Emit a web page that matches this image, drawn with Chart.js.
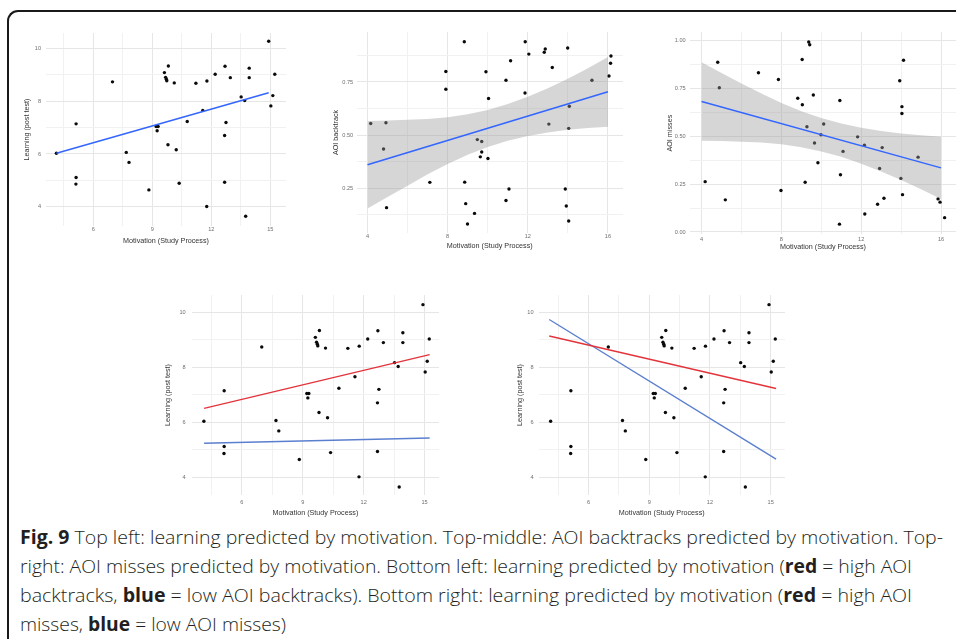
<!DOCTYPE html>
<html><head><meta charset="utf-8">
<script src="https://cdn.jsdelivr.net/npm/chart.js@4.4.0/dist/chart.umd.min.js"></script>
<style>
html,body{margin:0;padding:0;background:#fff;width:956px;height:639px;overflow:hidden;position:relative}
#frame{position:absolute;left:7px;top:10px;width:1100px;height:800px;border-left:2px solid #1a1a1a;border-top:2px solid #1a1a1a;border-top-left-radius:11px;box-sizing:border-box}
canvas{position:absolute}
#cap{position:absolute;left:20px;top:523px;font-family:'Open Sans',sans-serif;font-weight:300;font-size:19px;line-height:29px;color:#231f20;white-space:nowrap}
#cap .ln{height:29px}
#cap .ln span{display:inline-block;transform-origin:0 50%}
#cap b{font-weight:700}
</style></head>
<body>
<div id="frame"></div>
<div id="cap">
<div class="ln" data-w="923"><span><b>Fig. 9</b> Top left: learning predicted by motivation. Top-middle: AOI backtracks predicted by motivation. Top-</span></div>
<div class="ln" data-w="892"><span>right: AOI misses predicted by motivation. Bottom left: learning predicted by motivation (<b>red</b> = high AOI</span></div>
<div class="ln" data-w="892"><span>backtracks, <b>blue</b> = low AOI backtracks). Bottom right: learning predicted by motivation (<b>red</b> = high AOI</span></div>
<div class="ln" data-w="266"><span>misses, <b>blue</b> = low AOI misses)</span></div>
</div>
<script>
// ---- data: learning vs motivation (panels top-left, bottom-left, bottom-right)
const motivation = [4.13,5.13,5.13,5.12,6.98,7.68,7.82,8.83,9.20,9.30,9.25,9.62,9.82,9.68,9.72,9.74,9.80,10.12,10.22,10.37,10.78,11.22,11.57,11.78,11.77,12.20,12.70,12.97,12.68,12.75,12.68,13.52,13.70,13.75,13.93,13.93,14.92,15.13,15.03,15.23];
const learning   = [6.03,7.14,5.11,4.86,8.73,6.06,5.68,4.64,7.04,7.04,6.88,9.08,9.33,8.90,8.83,8.77,6.35,8.69,6.16,4.89,7.23,8.68,7.65,8.76,4.01,9.02,9.32,8.89,6.70,7.19,4.93,8.16,8.02,3.64,9.25,8.89,10.27,8.21,7.82,9.02];
// ---- data: AOI backtrack vs motivation (top-middle)
const motivationB = [4.16,4.92,4.80,4.95,7.11,7.91,7.91,8.83,8.85,8.90,8.99,9.34,9.48,9.70,9.70,9.63,9.91,10.01,10.04,10.91,10.91,11.06,11.14,11.87,11.86,12.05,12.82,12.87,13.22,13.05,13.87,13.92,13.99,14.07,14.04,14.04,15.20,16.05,16.13,16.15];
const backtrack   = [0.555,0.558,0.435,0.159,0.278,0.799,0.716,0.939,0.279,0.178,0.082,0.132,0.479,0.470,0.421,0.398,0.798,0.390,0.672,0.758,0.193,0.247,0.850,0.939,0.698,0.881,0.890,0.905,0.818,0.552,0.247,0.167,0.910,0.636,0.532,0.096,0.758,0.778,0.838,0.872];
// ---- data: AOI misses vs motivation (top-right)
const motivationM = [4.18,4.81,4.89,5.19,6.85,7.85,7.98,8.82,9.04,9.05,9.19,9.28,9.37,9.42,9.60,9.66,9.83,9.98,10.12,10.93,10.96,10.91,11.09,11.82,12.16,12.18,12.82,12.92,13.05,13.14,13.93,13.99,14.04,14.04,14.07,14.12,14.85,15.85,15.95,16.18];
const misses      = [0.263,0.887,0.754,0.168,0.832,0.797,0.217,0.699,0.901,0.665,0.260,0.550,0.993,0.978,0.716,0.465,0.362,0.508,0.564,0.687,0.299,0.041,0.421,0.497,0.453,0.094,0.145,0.332,0.441,0.176,0.790,0.280,0.655,0.619,0.195,0.897,0.391,0.173,0.156,0.075];
// ---- fitted lines
const fitLearnX = [4.13,14.92], fitLearnY = [6.03,8.32];
const fitBackX = [4,16], fitBackY = [0.361,0.704];
const fitMissX = [4,16], fitMissY = [0.682,0.335];
const fitHighBackX = [4.14,15.25], fitHighBackY = [6.50,8.45];
const fitLowBackX = [4.14,15.25],  fitLowBackY = [5.23,5.42];
const fitHighMissX = [4.06,15.27], fitHighMissY = [9.13,7.22];
const fitLowMissX = [4.06,15.27],  fitLowMissY = [9.73,4.65];
// ---- confidence bands
const bandX = [4,5,6,7,8,9,10,11,12,13,14,15,16];
const backUpper = [0.567,0.569,0.572,0.576,0.584,0.598,0.618,0.646,0.680,0.721,0.765,0.814,0.868];
const backLower = [0.155,0.209,0.262,0.316,0.364,0.408,0.444,0.474,0.496,0.513,0.525,0.534,0.540];
const missUpper = [0.887,0.831,0.776,0.723,0.674,0.631,0.595,0.567,0.545,0.528,0.515,0.505,0.497];
const missLower = [0.477,0.475,0.472,0.467,0.458,0.443,0.421,0.393,0.357,0.316,0.271,0.223,0.173];
// ---- ticks
const learnMajorX = [6,9,12,15], learnMinorX = [4.5,7.5,10.5,13.5];
const learnMajorY = [4,6,8,10],  learnMinorY = [5,7,9];
const aoiMajorX = [4,8,12,16],   aoiMinorX = [6,10,14];
const backMajorY = [0.25,0.5,0.75], backMinorY = [0.125,0.375,0.625,0.875];
const missMajorY = [0,0.25,0.5,0.75,1], missMinorY = [0.125,0.375,0.625,0.875];
const xTitle = 'Motivation (Study Process)';

const FONT = "'Liberation Sans', Arial, sans-serif";
const TITLE = 7.2, TICK = 5.6;
const pts = (xs, ys) => xs.map((x,i)=>({x, y: ys[i]}));

function points(xs, ys){ return {type:'scatter', data: pts(xs,ys), pointRadius:1.7, pointBackgroundColor:'#0a0a0a', pointBorderWidth:0, order:3}; }
function line(xs, ys, color, w){ return {type:'line', data: pts(xs,ys), borderColor:color, borderWidth:w, pointRadius:0, fill:false, order:1}; }
function band(xs, up, lo){ return [
  {type:'line', data: pts(xs,up), borderColor:'transparent', borderWidth:0, pointRadius:0, fill:'+1', backgroundColor:'rgba(153,153,153,0.4)', order:2},
  {type:'line', data: pts(xs,lo), borderColor:'transparent', borderWidth:0, pointRadius:0, fill:false, order:2}
];}

function panel(p){
  const lh = TITLE*1.2, tlh = TICK*1.2;
  const cl = Math.round(p.yTitleX - lh/2);
  const ct = Math.floor(p.area[1]);
  const padTop = p.area[1]-ct;
  const yW = p.area[0]-cl;
  const xH = p.xTitleY + lh/2 - p.area[3];
  const W = Math.round(p.area[2]-cl);
  const H = Math.round(p.area[3]-ct+xH);
  const c = document.createElement('canvas');
  c.width = W; c.height = H; c.style.left = cl+'px'; c.style.top = ct+'px';
  document.body.appendChild(c);
  const zero = s => { s.paddingLeft=s.paddingRight=s.paddingTop=s.paddingBottom=0; };
  const gridCol = (maj) => ctx => (ctx.tick && maj.includes(ctx.tick.value)) ? '#e6e6e6' : '#f1f1f1';
  new Chart(c, {
    type:'scatter',
    data:{datasets:p.datasets},
    options:{
      responsive:false, animation:false, devicePixelRatio:1,
      layout:{padding:{top:padTop,left:0,right:0,bottom:0}},
      plugins:{legend:{display:false}, tooltip:{enabled:false}},
      scales:{
        x:{type:'linear', min:p.xMin, max:p.xMax,
          afterBuildTicks: s => { s.ticks = p.xMaj.concat(p.xMin_).sort((a,b)=>a-b).map(v=>({value:v})); },
          afterFit: s => { s.height = xH; zero(s); },
          ticks:{autoSkip:false, maxRotation:0, padding: p.xTickY - p.area[3] - tlh/2, color:'#6f6f6f', font:{family:FONT,size:TICK},
            callback: v => p.xMaj.includes(v) ? String(v) : ''},
          grid:{drawTicks:false, color:gridCol(p.xMaj), lineWidth:1},
          border:{display:false},
          title:{display:true, text:xTitle, color:'#333', font:{family:FONT,size:TITLE}, padding:0}
        },
        y:{type:'linear', min:p.yMin, max:p.yMax,
          afterBuildTicks: s => { s.ticks = p.yMaj.concat(p.yMin_).sort((a,b)=>a-b).map(v=>({value:v})); },
          afterFit: s => { s.width = yW; zero(s); },
          ticks:{autoSkip:false, padding:p.yGap, color:'#6f6f6f', font:{family:FONT,size:TICK},
            callback: v => p.yMaj.includes(v) ? p.fmt(v) : ''},
          grid:{drawTicks:false, color:gridCol(p.yMaj), lineWidth:1},
          border:{display:false},
          title:{display:true, text:p.yTitle, color:'#333', font:{family:FONT,size:TITLE}, padding:0}
        }
      }
    }
  });
}
const int = v => String(v), dec = v => v.toFixed(2);

panel({area:[46,29.4,290,226.4], xMin:3.6, xMax:15.8, yMin:3.27, yMax:10.58, yTitleX:27, xTitleY:241, xTickY:230, yGap:5,
  xMaj:learnMajorX, xMin_:learnMinorX, yMaj:learnMajorY, yMin_:learnMinorY, fmt:int, yTitle:'Learning (post test)',
  datasets:[points(motivation, learning), line(fitLearnX, fitLearnY, '#3366ff', 1.5)]});
panel({area:[356.5,28.3,627.3,233.3], xMin:3.45, xMax:16.75, yMin:0.04, yMax:0.985, yTitleX:336.7, xTitleY:246, xTickY:236.7, yGap:3.3,
  xMaj:aoiMajorX, xMin_:aoiMinorX, yMaj:backMajorY, yMin_:backMinorY, fmt:dec, yTitle:'AOI backtrack',
  datasets:[points(motivationB, backtrack), line(fitBackX, fitBackY, '#3366ff', 1.5), ...band(bandX, backUpper, backLower)]});
panel({area:[690,28.3,959.9,234.3], xMin:3.42, xMax:16.75, yMin:-0.012, yMax:1.045, yTitleX:670, xTitleY:246.7, xTickY:239.3, yGap:4.3,
  xMaj:aoiMajorX, xMin_:aoiMinorX, yMaj:missMajorY, yMin_:missMinorY, fmt:dec, yTitle:'AOI misses',
  datasets:[points(motivationM, misses), line(fitMissX, fitMissY, '#3366ff', 1.5), ...band(bandX, missUpper, missLower)]});
panel({area:[191.7,291.7,443,495], xMin:3.53, xMax:15.71, yMin:3.35, yMax:10.62, yTitleX:168.5, xTitleY:512.7, xTickY:502.3, yGap:6,
  xMaj:learnMajorX, xMin_:learnMinorX, yMaj:learnMajorY, yMin_:learnMinorY, fmt:int, yTitle:'Learning (post test)',
  datasets:[points(motivation, learning), line(fitHighBackX, fitHighBackY, '#e3343c', 1.4), line(fitLowBackX, fitLowBackY, '#5b7fcf', 1.4)]});
panel({area:[538.5,291.7,788.9,495], xMin:3.53, xMax:15.71, yMin:3.35, yMax:10.62, yTitleX:520, xTitleY:512.7, xTickY:502.3, yGap:5,
  xMaj:learnMajorX, xMin_:learnMinorX, yMaj:learnMajorY, yMin_:learnMinorY, fmt:int, yTitle:'Learning (post test)',
  datasets:[points(motivation, learning), line(fitHighMissX, fitHighMissY, '#e3343c', 1.4), line(fitLowMissX, fitLowMissY, '#5b7fcf', 1.4)]});

// fit caption lines to the reference widths
document.querySelectorAll('#cap .ln').forEach(d => {
  const s = d.firstElementChild; const w = s.getBoundingClientRect().width;
  s.style.transform = 'scaleX(' + (parseFloat(d.dataset.w)/w) + ')';
});
</script>
</body></html>
